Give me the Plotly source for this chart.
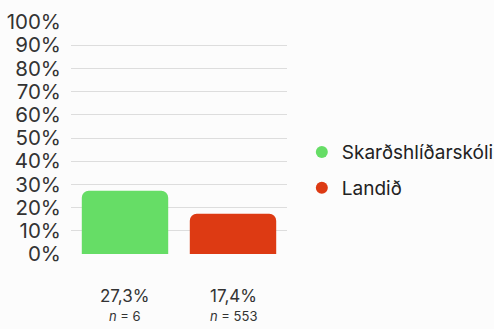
import plotly.graph_objects as go

# Data
series = ["Skarðshlíðarskóli", "Landið"]
values = [27.3, 17.4]
counts = [6, 553]
colors = ["#66dd66", "#dd3a13"]
y_ticks = [0, 10, 20, 30, 40, 50, 60, 70, 80, 90, 100]

FONT = "Inter"
TEXT = "#333333"
BG = "#fcfcfc"

fig = go.Figure()

# One bar per series, each in its own category slot
fig.add_trace(go.Bar(
    x=series, y=values,
    marker=dict(color=colors, line=dict(width=0)),
    showlegend=False,
    hoverinfo="skip",
))

# Legend entries with round markers
for name, col in zip(series, colors):
    fig.add_trace(go.Scatter(
        x=[None], y=[None], mode="markers", name=name, legendgroup=name,
        marker=dict(symbol="circle", size=15, color=col),
    ))

# Value and sample-size labels under each bar
for name, v, n in zip(series, values, counts):
    fig.add_annotation(
        x=name, y=-0.181, xref="x", yref="paper",
        text=f"{v:.1f}%".replace(".", ","),
        showarrow=False, yanchor="middle",
        font=dict(family=FONT, size=17, color=TEXT),
    )
    fig.add_annotation(
        x=name, y=-0.267, xref="x", yref="paper",
        text=f"<i>n</i> = {n}",
        showarrow=False, yanchor="middle",
        font=dict(family=FONT, size=13, color=TEXT),
    )

fig.update_layout(
    width=494, height=329,
    margin=dict(l=71, r=207, t=22, b=75, autoexpand=False),
    paper_bgcolor=BG, plot_bgcolor=BG,
    bargap=0.2,
    barcornerradius=7,
    font=dict(family=FONT, color=TEXT),
    legend=dict(
        xref="container", yref="container",
        x=0.611, y=0.483, xanchor="left", yanchor="middle",
        font=dict(family=FONT, size=19, color="#222222"),
        itemsizing="constant", tracegroupgap=8,
        bgcolor="rgba(0,0,0,0)",
    ),
    showlegend=True,
)

fig.update_xaxes(showticklabels=False, showgrid=False, zeroline=False,
                 showline=False, ticks="")
fig.update_yaxes(
    range=[0, 100], tickvals=y_ticks,
    ticktext=[f"{t}%" for t in y_ticks],
    tickfont=dict(family=FONT, size=20.5, color=TEXT),
    showgrid=True, gridcolor="#dddddd", gridwidth=1,
    zeroline=False, showline=False, ticks="", ticklabelstandoff=9,
)

fig.write_html("out.html")
